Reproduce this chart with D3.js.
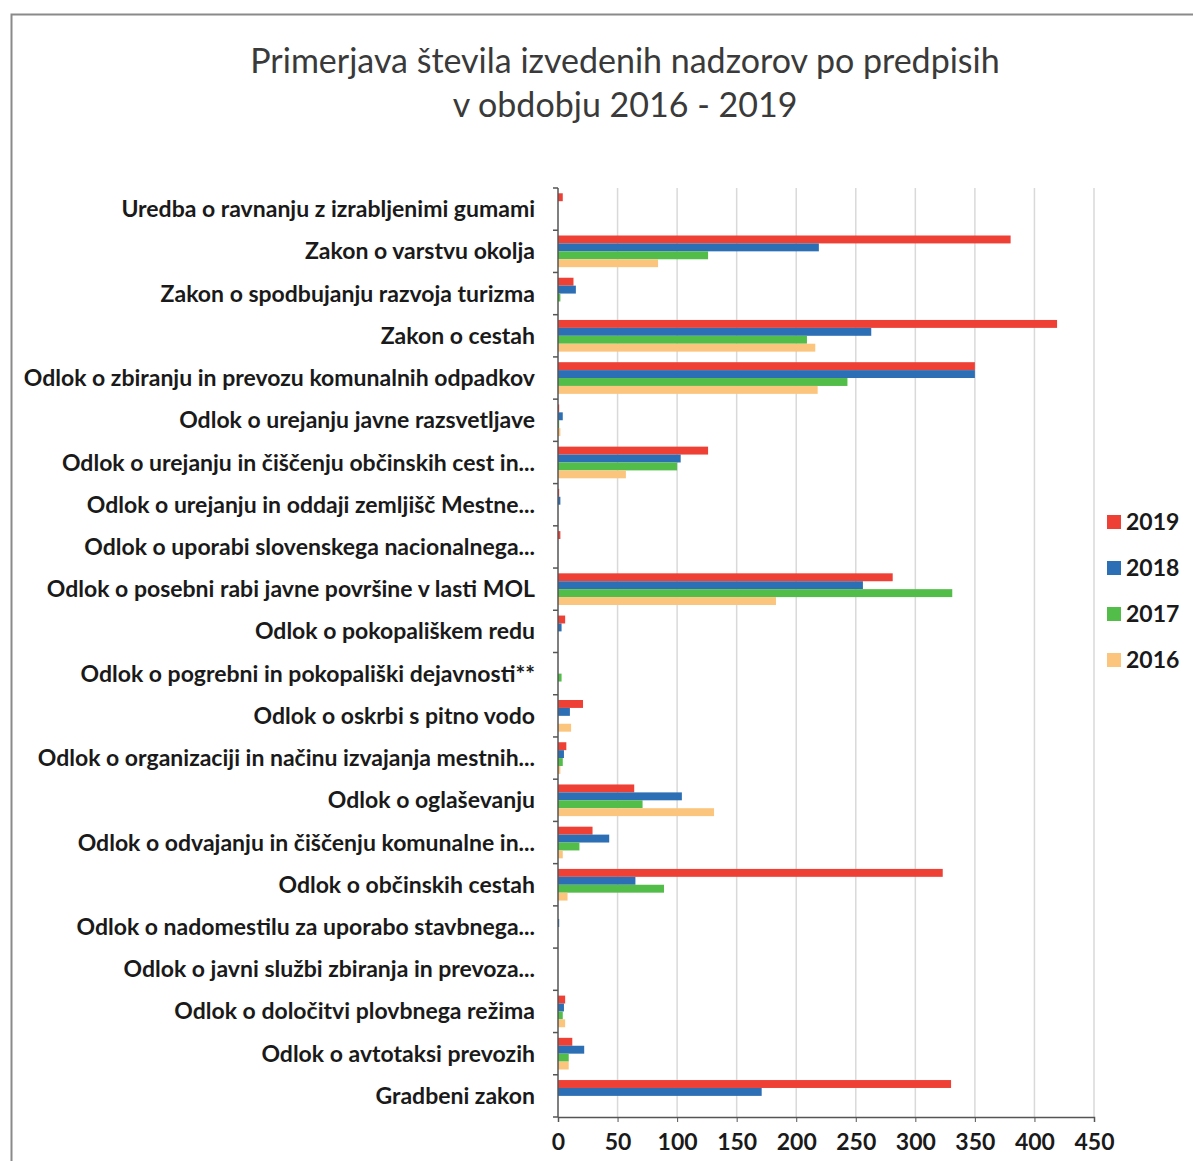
<!DOCTYPE html>
<html>
<head>
<meta charset="utf-8">
<script src="https://cdn.jsdelivr.net/npm/d3@7"></script>
<style>
  body { margin: 0; background: #fff; }
  text { font-family: Lato, "Open Sans", sans-serif; }
</style>
</head>
<body>
<div id="app"></div>
<script>
// categories top to bottom
let categories = [
    "Uredba o ravnanju z izrabljenimi gumami",
    "Zakon o varstvu okolja",
    "Zakon o spodbujanju razvoja turizma",
    "Zakon o cestah",
    "Odlok o zbiranju in prevozu komunalnih odpadkov",
    "Odlok o urejanju javne razsvetljave",
    "Odlok o urejanju in čiščenju občinskih cest in...",
    "Odlok o urejanju in oddaji zemljišč Mestne...",
    "Odlok o uporabi slovenskega nacionalnega...",
    "Odlok o posebni rabi javne površine v lasti MOL",
    "Odlok o pokopališkem redu",
    "Odlok o pogrebni in pokopališki dejavnosti**",
    "Odlok o oskrbi s pitno vodo",
    "Odlok o organizaciji in načinu izvajanja mestnih...",
    "Odlok o oglaševanju",
    "Odlok o odvajanju in čiščenju komunalne in...",
    "Odlok o občinskih cestah",
    "Odlok o nadomestilu za uporabo stavbnega...",
    "Odlok o javni službi zbiranja in prevoza...",
    "Odlok o določitvi plovbnega režima",
    "Odlok o avtotaksi prevozih",
    "Gradbeni zakon"
];

let series = ["2019", "2018", "2017", "2016"];
let colors = ["#ef4036", "#2d6fb4", "#52bd48", "#fcc57d"];

let v2019 = [4, 380, 13, 419, 350, 1, 126, 1, 2, 281, 6, 0, 21, 7, 64, 29, 323, 0, 0, 6, 12, 330];
let v2018 = [0, 219, 15, 263, 350, 4, 103, 2, 0, 256, 3, 0, 10, 5, 104, 43, 65, 1, 0, 5, 22, 171];
let v2017 = [0, 126, 2, 209, 243, 1, 100, 0, 0, 331, 0, 3, 0, 4, 71, 18, 89, 0, 0, 4, 9, 0];
let v2016 = [0, 84, 0, 216, 218, 2, 57, 0, 0, 183, 0, 0, 11, 2, 131, 4, 8, 0, 0, 6, 9, 0];
let values = [v2019, v2018, v2017, v2016];

let xTicks = [0, 50, 100, 150, 200, 250, 300, 350, 400, 450];

let svg = d3.select("#app")
.append("svg")
    .attr("width", 1193)
    .attr("height", 1161)

// outer frame
svg.append("path")
    .attr("d", "M11.5,1161 V14.5 H1193")
    .attr("fill", "none")
    .attr("stroke", "#8a8a8a")
    .attr("stroke-width", 2)

// title
let title = svg.append("text")
    .attr("text-anchor", "middle")
    .attr("fill", "#3a3a3a")
    .style("font-size", "34px")
title.append("tspan").attr("x", 625).attr("y", 73).text("Primerjava števila izvedenih nadzorov po predpisih")
title.append("tspan").attr("x", 625).attr("y", 117).text("v obdobju 2016 - 2019")

let x = d3.scaleLinear()
    .domain([0, 450])
    .range([558, 1094]);

let y = d3.scaleBand()
    .domain(categories)
    .range([188, 1117])
    .paddingInner(0.25)
    .paddingOuter(0.125);

let ySub = d3.scaleBand()
    .domain(series)
    .range([0, y.bandwidth()]);

// grid
svg.append("g")
    .selectAll("line")
    .data(xTicks.slice(1))
    .enter()
    .append("line")
        .attr("x1", d => x(d))
        .attr("x2", d => x(d))
        .attr("y1", 188)
        .attr("y2", 1117)
        .attr("stroke", "#d9d9d9")
        .attr("stroke-width", 1.5)

// bars
let rows = svg.append("g")
    .selectAll("g")
    .data(categories)
    .enter()
    .append("g")
        .attr("transform", d => "translate(0," + y(d) + ")")

rows.selectAll("rect")
    .data((d, i) => series.map((s, j) => ({s: s, j: j, val: values[j][i]})))
    .enter()
    .append("rect")
        .attr("x", x(0))
        .attr("y", d => ySub(d.s))
        .attr("width", d => x(d.val) - x(0))
        .attr("height", ySub.bandwidth())
        .attr("fill", d => colors[d.j])

// y axis
let yAxis = svg.append("g")
yAxis.append("line")
    .attr("x1", x(0)).attr("x2", x(0))
    .attr("y1", 188).attr("y2", 1117)
    .attr("stroke", "#555").attr("stroke-width", 1.5)
yAxis.selectAll(".tick")
    .data(d3.range(categories.length + 1))
    .enter()
    .append("line")
        .attr("x1", x(0) - 5).attr("x2", x(0))
        .attr("y1", i => 188 + i * y.step())
        .attr("y2", i => 188 + i * y.step())
        .attr("stroke", "#555").attr("stroke-width", 1.5)
yAxis.selectAll("text")
    .data(categories)
    .enter()
    .append("text")
        .attr("x", 535)
        .attr("y", d => y(d) + y.bandwidth() / 2)
        .attr("dy", "0.35em")
        .attr("text-anchor", "end")
        .attr("fill", "#1a1a1a")
        .style("font-size", "23px")
        .style("font-weight", "bold")
        .text(d => d)

// x axis
let xAxis = svg.append("g")
    .attr("transform", "translate(0,1117)")
    .call(d3.axisBottom(x).tickValues(xTicks).tickSize(5).tickPadding(12))
xAxis.select(".domain").attr("stroke", "#555").attr("stroke-width", 1.5)
xAxis.selectAll(".tick line").attr("stroke", "#555")
xAxis.selectAll("text")
    .attr("fill", "#1a1a1a")
    .style("font-size", "23px")
    .style("font-family", "Lato, sans-serif")
    .style("font-weight", "bold")

// legend
let legend = svg.append("g")
    .selectAll("g")
    .data(series)
    .enter()
    .append("g")
        .attr("transform", (d, i) => "translate(1107," + (522 + i * 46) + ")")
legend.append("rect")
    .attr("x", 0).attr("y", -7)
    .attr("width", 14).attr("height", 14)
    .attr("fill", (d, i) => colors[i])
legend.append("text")
    .attr("x", 19)
    .attr("dy", "0.36em")
    .attr("fill", "#1a1a1a")
    .style("font-size", "23px")
    .style("font-weight", "bold")
    .text(d => d)
</script>
</body>
</html>
